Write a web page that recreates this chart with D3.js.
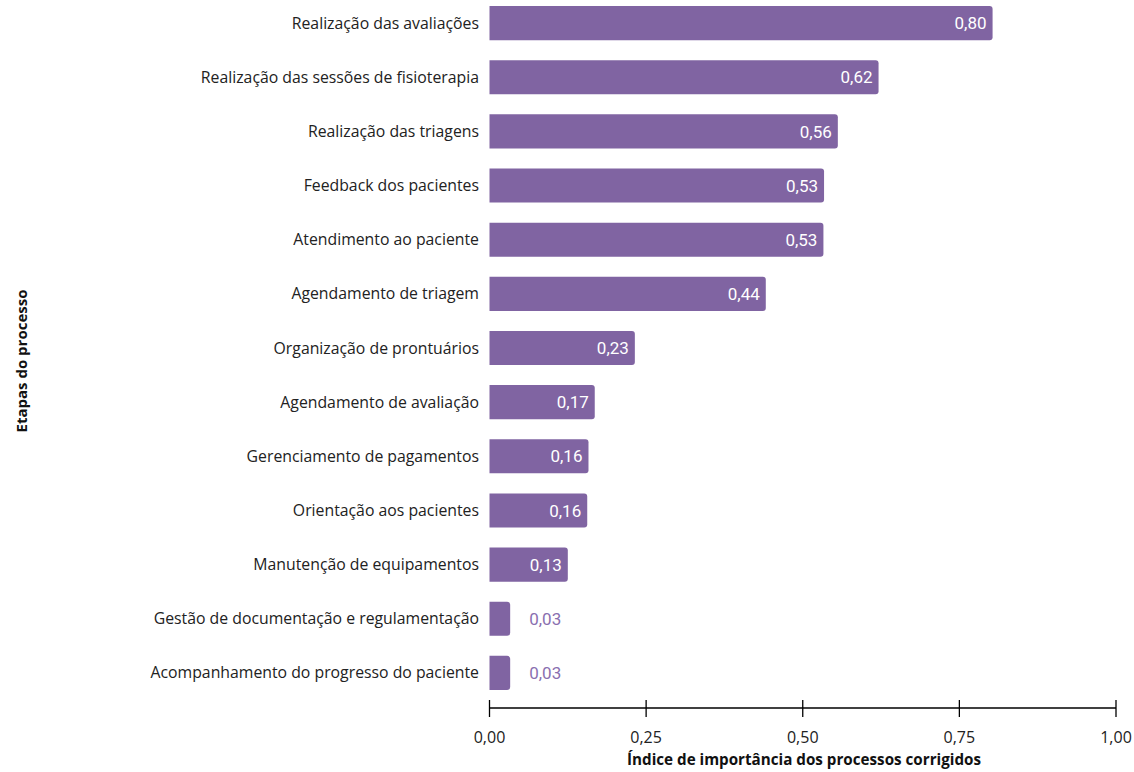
<!DOCTYPE html>
<html>
<head>
<meta charset="utf-8">
<script src="https://cdn.jsdelivr.net/npm/d3@7"></script>
<style>
  body { margin: 0; background: #fff; }
  #container { width: 1134px; height: 772px; }
</style>
</head>
<body>
<div id="container"></div>
<script>
// Data
const categories = [
  "Realização das avaliações",
  "Realização das sessões de fisioterapia",
  "Realização das triagens",
  "Feedback dos pacientes",
  "Atendimento ao paciente",
  "Agendamento de triagem",
  "Organização de prontuários",
  "Agendamento de avaliação",
  "Gerenciamento de pagamentos",
  "Orientação aos pacientes",
  "Manutenção de equipamentos",
  "Gestão de documentação e regulamentação",
  "Acompanhamento do progresso do paciente"
];
const values = [0.803, 0.621, 0.556, 0.534, 0.533, 0.441, 0.232, 0.168, 0.158, 0.156, 0.125, 0.033, 0.033];
const xTicks = [0, 0.25, 0.5, 0.75, 1];

const data = categories.map((c, i) => ({ name: c, value: values[i] }));
const fmt = (v) => v.toFixed(2).replace(".", ",");

const svg = d3
  .select("#container")
  .append("svg")
  .attr("width", 1134)
  .attr("height", 772);

const barColor = "#8064a2";
const labelFont = "'Open Sans', sans-serif";

// Scales
const x = d3.scaleLinear().domain([0, 1]).range([489.5, 1116]);
const y = d3
  .scaleBand()
  .domain(categories)
  .range([-4, 700])
  .paddingInner(0.37)
  .paddingOuter(0.185);

// Bars: square left edge, rounded right edge
const r = 3;
svg
  .selectAll(".bar")
  .data(data)
  .enter()
  .append("path")
  .attr("class", "bar")
  .attr("fill", barColor)
  .attr("d", (d) => {
    const x0 = x(0), x1 = x(d.value), y0 = y(d.name), h = y.bandwidth();
    return `M${x0},${y0}H${x1 - r}Q${x1},${y0} ${x1},${y0 + r}V${y0 + h - r}Q${x1},${y0 + h} ${x1 - r},${y0 + h}H${x0}Z`;
  });

// Value labels
svg
  .selectAll(".val")
  .data(data)
  .enter()
  .append("text")
  .attr("class", "val")
  .attr("x", (d) => (d.value > 0.08 ? x(d.value) - 6 : x(d.value) + 19))
  .attr("y", (d) => y(d.name) + y.bandwidth() / 2)
  .attr("dy", "0.36em")
  .attr("text-anchor", (d) => (d.value > 0.08 ? "end" : "start"))
  .attr("fill", (d) => (d.value > 0.08 ? "#fff" : "#8a6fb0"))
  .style("font-family", "Roboto, sans-serif")
  .style("font-size", "17px")
  .text((d) => fmt(d.value));

// Category labels
svg
  .selectAll(".cat")
  .data(data)
  .enter()
  .append("text")
  .attr("class", "cat")
  .attr("x", 479)
  .attr("y", (d) => y(d.name) + y.bandwidth() / 2)
  .attr("dy", "0.35em")
  .attr("text-anchor", "end")
  .attr("fill", "#222")
  .style("font-family", labelFont)
  .style("font-size", "15.8px")
  .text((d) => d.name);

// X axis
const axisY = 708;
const gx = svg.append("g").attr("transform", `translate(0,${axisY})`);
gx.append("line")
  .attr("x1", x(0))
  .attr("x2", x(1))
  .attr("stroke", "#000")
  .attr("stroke-width", 1.3);
gx.selectAll(".tick")
  .data(xTicks)
  .enter()
  .append("line")
  .attr("x1", (d) => x(d))
  .attr("x2", (d) => x(d))
  .attr("y1", -8)
  .attr("y2", 9)
  .attr("stroke", "#000")
  .attr("stroke-width", 1.3);
gx.selectAll(".tl")
  .data(xTicks)
  .enter()
  .append("text")
  .attr("x", (d) => x(d))
  .attr("y", 29)
  .attr("dy", "0.35em")
  .attr("text-anchor", "middle")
  .attr("fill", "#222")
  .style("font-family", labelFont)
  .style("font-size", "16px")
  .text((d) => fmt(d));

// Axis titles
svg
  .append("text")
  .attr("x", 804)
  .attr("y", 760)
  .attr("dy", "0.35em")
  .attr("text-anchor", "middle")
  .attr("fill", "#111")
  .style("font-family", labelFont)
  .style("font-size", "15.2px")
  .style("font-weight", "bold")
  .text("Índice de importância dos processos corrigidos");

svg
  .append("text")
  .attr("transform", "translate(22,361) rotate(-90)")
  .attr("dy", "0.35em")
  .attr("text-anchor", "middle")
  .attr("fill", "#111")
  .style("font-family", labelFont)
  .style("font-size", "15px")
  .style("font-weight", "bold")
  .text("Etapas do processo");
</script>
</body>
</html>
